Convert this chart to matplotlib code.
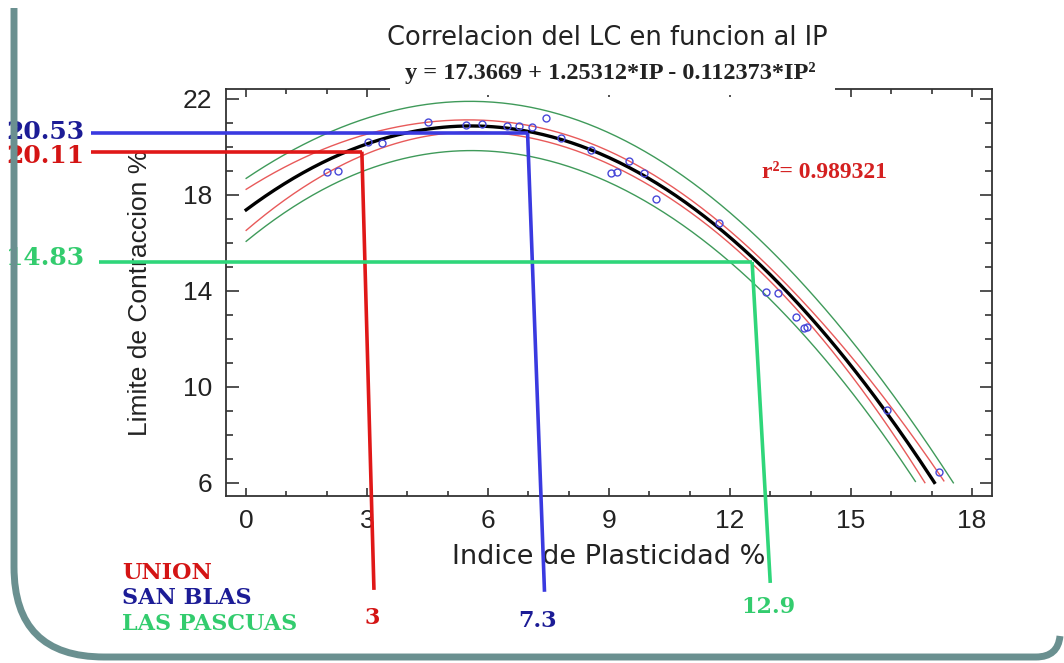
import numpy as np
import matplotlib
matplotlib.use("Agg")
import matplotlib.pyplot as plt
from matplotlib.path import Path
from matplotlib.patches import PathPatch, Rectangle
from matplotlib.ticker import MultipleLocator

# ---------------- data ----------------
ip_pts = np.array([2.0, 2.28, 3.02, 3.37, 4.5, 5.45, 5.84, 6.46, 6.78, 7.08, 7.43, 7.8,
                   8.56, 9.06, 9.2, 9.5, 9.88, 10.17, 11.73, 12.9, 13.2, 13.64, 13.84,
                   13.9, 15.9, 17.18])
lc_pts = np.array([18.96, 19.0, 20.2, 20.17, 21.04, 20.9, 20.96, 20.87, 20.87, 20.8, 21.2,
                   20.37, 19.87, 18.9, 18.96, 19.4, 18.9, 17.8, 16.83, 13.96, 13.9, 12.9,
                   12.46, 12.5, 9.04, 6.46])
coef = [17.3669, 1.25312, -0.112373]   # printed fit
r2_txt = "0.989321"
t95 = 2.07
y_ticks = [6, 10, 14, 18, 22]

# hand-drawn reading lines (top point on curve, bottom end below the axis)
site_names = ["UNION", "SAN BLAS", "LAS PASCUAS"]
site_lc = ["20.11", "20.53", "14.83"]
site_ip = ["3", "7.3", "12.9"]
line_top = [(2.87, 19.79), (6.98, 20.58), (12.55, 15.2)]
line_bot = [(3.17, 1.54), (7.40, 1.46), (13.0, 1.83)]
line_left = [-3.86, -3.86, -3.64]
line_col = ["#e01818", "#3a3ae0", "#2fd67a"]
text_col = ["#d41414", "#1c1c96", "#33cc6e"]

W, H = 1064, 663
fx = lambda p: p / W
fy = lambda p: 1 - p / H

plt.rcParams["font.family"] = ["Liberation Sans", "DejaVu Sans"]
fig = plt.figure(figsize=(W / 100, H / 100), dpi=100, facecolor="white")
ax = fig.add_axes([fx(226), fy(496), fx(992) - fx(226), fy(89) - fy(496)])

# fit curve and bands
X = np.column_stack([np.ones_like(ip_pts), ip_pts, ip_pts ** 2])
resid = lc_pts - X @ np.array(coef)
s = np.sqrt(np.sum(resid ** 2) / (len(ip_pts) - 3))
XtXi = np.linalg.inv(X.T @ X)
xs = np.linspace(0, 17.6, 300)
V = np.column_stack([np.ones_like(xs), xs, xs ** 2])
fit = V @ np.array(coef)
h = np.einsum("ij,jk,ik->i", V, XtXi, V)
conf = t95 * s * np.sqrt(h)
pred = t95 * s * np.sqrt(1 + h)


def cut(y):
    return np.where(y >= 5.95, y, np.nan)


for sign in (1, -1):
    ax.plot(xs, cut(fit + sign * pred), color="#3f9a5a", lw=1.0, zorder=2)
    ax.plot(xs, cut(fit + sign * conf), color="#e85a5a", lw=1.0, zorder=2)
ax.plot(xs, cut(fit), color="black", lw=2.4, zorder=3)
ax.plot(ip_pts, lc_pts, "o", ms=5, mfc="none", mec="#4848d8", mew=1.0, zorder=4)

ax.set_xlim(-0.5, 18.5)
ax.set_ylim(5.45, 22.4)
ax.xaxis.set_major_locator(MultipleLocator(3))
ax.xaxis.set_minor_locator(MultipleLocator(1))
ax.set_yticks(y_ticks)
ax.yaxis.set_minor_locator(MultipleLocator(1))
ax.tick_params(axis="both", which="both", direction="in", top=True, right=True,
               width=1.2, color="#333333", labelsize=19, labelcolor="#222222")
ax.tick_params(axis="y", which="major", length=9, pad=10)
ax.tick_params(axis="y", which="minor", length=5)
ax.tick_params(axis="x", which="major", length=6, pad=9)
ax.tick_params(axis="x", which="minor", length=3.5)
for sp in ax.spines.values():
    sp.set_linewidth(1.3)
    sp.set_color("#333333")
ax.set_xlabel("Indice de Plasticidad %", fontsize=19.5, color="#222222", labelpad=8,
              family="DejaVu Sans")
ax.set_ylabel("Limite de Contraccion %", fontsize=19, color="#222222", labelpad=22)

ax.text(0.70, 0.795, f"r²= {r2_txt}", transform=ax.transAxes, color="#d42020",
        fontsize=17, fontweight="bold", family="Liberation Serif", va="center")

# white box of the title area hides part of the top spine
fig.add_artist(Rectangle((fx(390), fy(95)), fx(835) - fx(390), fy(0) - fy(95),
                         transform=fig.transFigure, facecolor="white",
                         edgecolor="none", zorder=2.5))
fig.text(fx(607), fy(38), "Correlacion del LC en funcion al IP", fontsize=18.5,
         family="DejaVu Sans", color="#222222", ha="center", va="center", zorder=3)
fig.text(fx(610), fy(73), "y = 17.3669 + 1.25312*IP - 0.112373*IP²", fontsize=17.5,
         fontweight="bold", family="Liberation Serif", color="#222222",
         ha="center", va="center", zorder=3)

# reading lines
for i in range(3):
    x0, y0 = line_top[i]
    x1, y1 = line_bot[i]
    ax.plot([line_left[i], x0], [y0, y0], color=line_col[i], lw=2.6,
            clip_on=False, zorder=6, solid_capstyle="butt")
    ax.plot([x0, x1], [y0, y1], color=line_col[i], lw=2.6,
            clip_on=False, zorder=6, solid_capstyle="butt")

serif_b = dict(family="DejaVu Serif", fontweight="bold")
lc_y = [156, 132, 258]
for i in range(3):
    fig.text(fx(45), fy(lc_y[i]), site_lc[i], color=text_col[i], fontsize=18,
             ha="center", va="center", **serif_b)

name_y = [573, 598, 624]
for i in range(3):
    fig.text(fx(122), fy(name_y[i]), site_names[i], color=text_col[i], fontsize=16,
             ha="left", va="center", **serif_b)

ip_xy = [(372, 618), (538, 621), (768, 607)]
for i in range(3):
    fig.text(fx(ip_xy[i][0]), fy(ip_xy[i][1]), site_ip[i], color=text_col[i],
             fontsize=16, ha="center", va="center", **serif_b)

# slide frame
pts = [(14, 8), (14, 567), (14, 657), (104, 657), (1036, 657), (1058, 657), (1060, 636)]
codes = [Path.MOVETO, Path.LINETO, Path.CURVE3, Path.CURVE3, Path.LINETO,
         Path.CURVE3, Path.CURVE3]
frame = Path([(fx(a), fy(b)) for a, b in pts], codes)
fig.add_artist(PathPatch(frame, transform=fig.transFigure, facecolor="none",
                         edgecolor="#6a9090", lw=5, zorder=10))

fig.savefig("out.png", dpi=100, facecolor="white")
